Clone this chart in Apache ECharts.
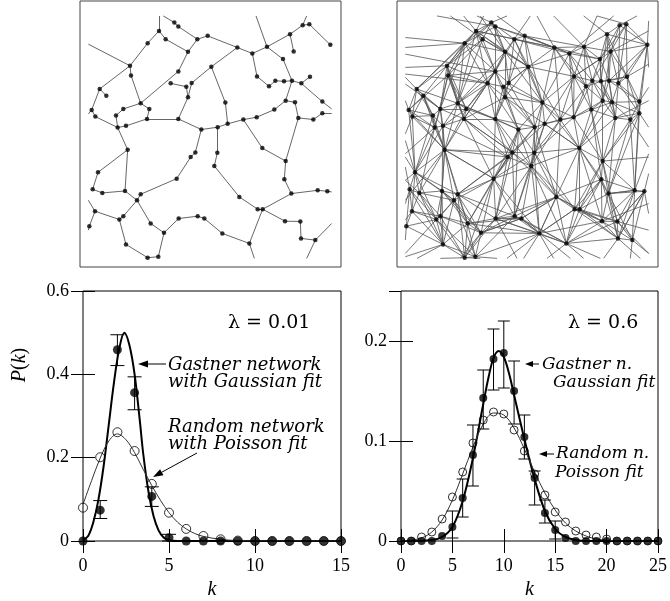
<!DOCTYPE html>
<html>
<head>
<meta charset="utf-8">
<script src="https://cdn.jsdelivr.net/npm/echarts@6/dist/echarts.min.js"></script>
<style>
  html, body { margin: 0; padding: 0; background: #fff; }
  #chart { width: 670px; height: 601px; }
</style>
</head>
<body>
<div id="chart"></div>
<script>
// network node positions (same nodes in both panels), panel units
const nodeXY = [[237,90],[283,65],[295,77],[257,115],[203,127],[352,115],[383,105],[324,153],[472,140],[517,158],
  [561,138],[630,100],[668,73],[688,70],[751,132],[641,152],[609,175],[150,195],[153,224],[394,198],
  [295,212],[272,248],[319,258],[335,247],[324,290],[531,227],[567,257],[586,240],[612,242],[636,240],
  [664,248],[690,228],[59,265],[79,285],[182,308],[130,325],[208,325],[35,328],[46,348],[108,345],
  [201,355],[295,355],[436,306],[617,300],[645,305],[655,352],[700,357],[727,303],[727,338],[583,327],
  [530,350],[490,357],[443,370],[413,380],[364,387],[138,376],[113,381],[143,448],[547,443],[346,456],
  [332,470],[412,457],[403,497],[54,516],[617,482],[613,537],[634,580],[290,535],[38,567],[67,578],
  [135,572],[182,582],[171,600],[713,570],[742,573],[478,590],[533,627],[548,627],[45,633],[130,648],
  [118,658],[212,670],[296,655],[353,648],[373,655],[615,663],[661,664],[28,678],[252,698],[427,700],
  [508,730],[663,715],[706,720],[138,733],[203,773],[235,770]];

// lambda = 0.01 network: edges as node index pairs, stubs run to the panel edge
const leftEdges = [[0,4],[4,17],[17,18],[18,34],[17,32],[32,33],[32,37],[37,38],[38,56],[39,35],[39,56],[56,55],
  [55,40],[40,41],[40,36],[36,34],[34,35],[34,20],[20,7],[7,5],[5,2],[2,1],[0,3],[3,7],[5,6],[6,8],[8,9],[9,10],
  [10,11],[11,12],[12,13],[13,14],[11,15],[10,16],[16,29],[9,25],[25,26],[26,27],[27,28],[28,29],[29,30],[30,31],
  [30,47],[29,43],[43,44],[44,45],[45,46],[46,48],[43,49],[49,50],[50,51],[51,52],[52,53],[53,54],[54,41],[41,24],
  [24,22],[22,21],[8,19],[19,23],[23,24],[19,42],[42,52],[51,58],[58,64],[45,64],[64,65],[65,66],[66,73],[73,74],
  [66,77],[77,76],[76,75],[77,85],[85,86],[86,91],[91,92],[77,90],[90,89],[89,84],[84,83],[83,82],[82,88],[88,81],
  [81,72],[72,71],[71,67],[67,60],[60,59],[59,54],[53,61],[61,62],[62,75],[56,57],[57,70],[57,63],[63,68],[68,69],
  [69,70],[70,72],[72,79],[79,80],[80,78],[80,93],[93,94],[94,95],[95,88],[78,87]];
const leftStubs = [[0,237,45],[1,250,45],[10,528,45],[12,680,45],[17,25,130],[37,25,340],[47,755,325],[48,755,338],
  [74,755,575],[78,25,600],[87,25,690],[92,755,670],[92,680,775],[90,523,775],[94,195,775],[14,755,130]];

// lambda = 0.6 network: short links as neighbour lists (higher indices only)
const rightAdj = [[1,3,4,5,7,17,19,20],[2,3,5,7],[6,7,20],[7,17,18,20],[7,17,18,20,32,34],[6,7,8,19,20],[8,9,19],
  [19,20,21,23],[9,10,19,25,42],[10,16,19,25,26],[11,15,16,25,27],[12,14,15,16,29],[13,14,15],[14,15,31],
  [15,30,31,47],[16,29,30,31],[25,27,28,29],[18,32,33,34,35],[20,21,34,35,36],[20,22,23,25,42],[21,22,23,24,34],
  [22,24,34,36,41],[23,24,41,54],[24,42],[40,41,42,54],[26,27,42,50,51],[27,28,49,50],[28,43,49],[29,43,44],
  [30,31,43,44],[31,44,45,47],[47,48],[33,35,37,38],[35,37,38,39],[35,36,40,41,55],[36,39,55,56],[40,41,55],
  [38,39,56,63],[39,56,63],[55,56,57],[41,55,57,59],[54,59,60],[50,51,52,53,54],[44,45,49,50],[45,47,48,49],
  [46,48,49,58,64],[47,48,64,73],[48],[64,73],[50,58,64],[51,52,58],[52,58,61,62],[53,58,61],[54,59,61,62],
  [59,60,61],[56,57],[57,63],[60,63,67,70,71],[61,62,64,65,75],[60,61,62,67],[62,67,71],[62,75],[67,75,83,84],
  [68,69,70],[65,66,73],[66,73,75,76,77],[73,77,85,86],[71,72,81,82,83],[69,78,87],[70,72,78,80],[71,72,79,80],
  [72,81,82],[79,80,81],[74,86,91,92],[86,92],[76,77,84,89,90],[77,85,89,90],[85,90],[80,87,93],[80,81,93],
  [87,93],[82,88,93,94,95],[83,84,88,89],[84,88,89],[89,90],[86,90,91],[91,92],[93],[89,94,95],[90],[91],[92],
  [],[94],[95],[]];
// lambda = 0.6 network: long links
const rightLong = [[0,8],[0,21],[0,32],[0,34],[1,19],[1,4],[1,17],[2,8],[2,4],[3,34],[3,19],[4,35],[4,21],[5,23],
  [5,42],[5,9],[6,23],[6,42],[6,10],[7,42],[7,34],[7,24],[8,16],[8,26],[8,51],[9,27],[9,42],[9,50],[10,28],[10,26],
  [11,28],[11,31],[12,16],[12,30],[13,30],[13,16],[14,29],[14,48],[15,43],[15,27],[16,43],[17,36],[17,40],[17,21],
  [18,37],[18,40],[18,56],[19,24],[19,51],[19,53],[20,36],[20,40],[20,41],[21,40],[21,54],[22,42],[22,53],[23,53],
  [23,41],[24,53],[24,52],[25,49],[25,52],[25,16],[26,43],[26,51],[27,44],[27,50],[28,45],[28,31],[29,47],[29,45],
  [30,48],[31,46],[32,39],[32,34],[33,56],[33,57],[34,57],[34,54],[35,57],[35,40],[36,57],[36,59],[37,57],[38,57],
  [39,63],[40,60],[40,67],[41,53],[41,67],[42,58],[42,61],[43,58],[43,64],[44,58],[44,46],[45,66],[46,66],[47,73],
  [48,66],[49,65],[50,61],[50,64],[51,75],[52,62],[52,59],[53,67],[54,67],[54,62],[55,63],[55,60],[56,69],[57,72],
  [57,69],[58,66],[58,76],[59,71],[60,82],[61,89],[61,67],[62,89],[62,76],[63,78],[63,71],[64,77],[65,85],[65,90],
  [66,74],[66,91],[67,88],[68,80],[69,79],[70,81],[70,93],[71,88],[72,93],[72,88],[73,85],[74,91],[75,83],[75,85],
  [76,86],[77,91],[78,79],[79,94],[81,89],[82,90],[83,90],[84,75],[85,92],[88,84],[89,76],[93,95],[80,94],
  [57,67],[57,59],[57,81],[59,82],[59,83],[60,81],[61,83],[61,76],[62,82],[62,90],[58,77],[58,85],[64,76],[64,86],
  [65,91],[66,92],[67,89],[67,94],[68,93],[69,93],[70,88],[71,94],[71,83],[72,95],[73,66],[75,82],[75,89],[76,91],
  [77,86],[79,88],[80,95],[81,84],[82,94],[83,95],[84,88],[85,89],[86,74],[89,95],[90,86],[91,74],[63,80],[63,72],
  [57,79],[59,75],[53,75],[52,58],[54,83],[41,62],[40,59],[55,70]];
const rightStubs = [[0,200,45],[0,260,45],[1,240,45],[1,330,45],[2,120,45],[5,400,45],[6,300,45],[8,420,45],
  [10,470,45],[10,600,45],[11,560,45],[12,720,45],[13,600,45],[14,755,60],[4,25,110],[4,25,140],[17,25,200],
  [32,25,230],[37,25,300],[38,25,400],[63,25,470],[63,25,540],[68,25,610],[87,25,720],[78,25,660],[93,60,775],
  [94,130,775],[95,300,775],[88,190,775],[89,380,775],[89,470,775],[90,560,775],[90,450,775],[91,620,775],
  [92,755,760],[92,700,775],[74,755,520],[74,755,640],[48,755,380],[47,755,260],[14,755,200],[46,755,440],
  [31,755,190],[86,755,690],[3,160,45],[7,250,45],[9,650,45],[15,755,90],[20,25,160],[35,25,250],[56,25,460],
  [57,25,600],[80,25,760],[82,360,775],[84,520,775],[85,755,610],[64,755,470],[45,755,300],[21,25,220],
  [94,250,775],[93,25,770],[89,330,775],[90,610,775],[91,730,775],[86,755,760],[73,755,460],[68,25,500],
  [63,25,420],[69,25,540]];

// degree distribution, lambda = 0.01
const kLeft = [0,1,2,3,4,5,6,7,8,9,10,11,12,13,14,15];
const gastnerLeft = [0,0.074,0.459,0.356,0.107,0.008,0,0,0,0,0,0,0,0,0,0];
const randomLeft = [0.080,0.201,0.261,0.216,0.137,0.068,0.029,0.012,0.004,0.001,0,0,0,0,0,0];
const errKLeft = [1,2,3,4,5];
const errLowLeft = [0.054,0.421,0.315,0.083,0];
const errHighLeft = [0.097,0.495,0.394,0.130,0.016];
const gaussFitLeftK = [0,0.3,0.6,0.9,1.2,1.5,1.8,2.1,2.4,2.7,3.0,3.3,3.5,3.8,4.1,4.4,4.7,5.0,5.5,15];
const gaussFitLeftP = [0.003,0.012,0.045,0.10,0.18,0.28,0.38,0.46,0.50,0.47,0.40,0.29,0.21,0.12,0.06,0.025,0.008,0.002,0,0];
const poisFitLeftK = [0,0.5,1,1.5,2,2.5,3,3.5,4,4.5,5,5.5,6,6.5,7,8,9,10,15];
const poisFitLeftP = [0.088,0.145,0.199,0.240,0.257,0.243,0.212,0.172,0.133,0.098,0.068,0.045,0.029,0.018,0.011,0.004,0.001,0,0];

// degree distribution, lambda = 0.6
const kRight = [0,1,2,3,4,5,6,7,8,9,10,11,12,13,14,15,16,17,18,19,20,21,22,23,24,25];
const gastnerRight = [0,0,0,0,0.005,0.014,0.043,0.086,0.143,0.182,0.188,0.150,0.104,0.063,0.028,0.011,0.003,0,0,0,0,0,0,0,0,0];
const randomRight = [0,0,0.004,0.009,0.022,0.044,0.069,0.098,0.121,0.129,0.127,0.111,0.090,0.067,0.046,0.029,0.019,0.010,0.006,0.004,0.002,0,0,0,0,0];
const errKRight = [5,6,7,8,9,10,11,12,13,14,15];
const errLowRight = [0.003,0.024,0.055,0.112,0.151,0.153,0.117,0.082,0.036,0.018,0.002];
const errHighRight = [0.030,0.062,0.116,0.171,0.212,0.220,0.180,0.126,0.070,0.041,0.020];
const gaussFitRightK = [0,3,4,5,6,7,8,8.5,9,9.5,10,10.5,11,12,13,14,15,16,17,18,25];
const gaussFitRightP = [0,0.001,0.004,0.014,0.040,0.083,0.137,0.163,0.183,0.190,0.184,0.168,0.146,0.102,0.062,0.030,0.012,0.004,0.001,0,0];
const poisFitRightK = [0,1,2,3,4,5,6,7,8,9,10,11,12,13,14,15,16,17,18,19,20,21,25];
const poisFitRightP = [0,0.001,0.003,0.009,0.021,0.041,0.067,0.094,0.117,0.128,0.126,0.113,0.092,0.069,0.048,0.031,0.018,0.010,0.005,0.002,0.001,0,0];

const serif = "'Liberation Serif', 'DejaVu Serif', serif";
const italic = "'DejaVu Serif', serif";

function zip(xs, ys) {
  return xs.map((x, i) => [x, ys[i]]);
}

function edgeLines(pairs, stubs) {
  const out = pairs.map(([a, b]) => ({ coords: [nodeXY[a], nodeXY[b]] }));
  stubs.forEach(([a, x, y]) => out.push({ coords: [nodeXY[a], [x, y]] }));
  return out;
}

const rightPairs = rightLong.slice();
rightAdj.forEach((list, i) => list.forEach((j) => rightPairs.push([i, j])));

function netAxes(grid) {
  return {
    x: { type: "value", gridIndex: grid, min: 0, max: 783, show: false },
    y: { type: "value", gridIndex: grid, min: 0, max: 801, inverse: true, show: false },
  };
}

function plotAxes(grid, xmax, ymax, yint, showMax) {
  const tick = { show: true, inside: true, length: 12, lineStyle: { color: "#000", width: 1 } };
  const label = { color: "#000", fontFamily: serif, fontSize: 18 };
  return {
    x: [
      { type: "value", gridIndex: grid, min: 0, max: xmax, interval: 5, position: "bottom",
        axisLine: { show: false }, splitLine: { show: false }, axisTick: tick,
        axisLabel: Object.assign({ margin: 16 }, label),
        name: "k", nameLocation: "middle", nameGap: 39,
        nameTextStyle: { fontFamily: serif, fontStyle: "italic", fontSize: 20, color: "#000" } },
      { type: "value", gridIndex: grid, min: 0, max: xmax, interval: 5, position: "top",
        axisLine: { show: false }, splitLine: { show: false }, axisTick: tick, axisLabel: { show: false } },
    ],
    y: [
      { type: "value", gridIndex: grid, min: 0, max: ymax, interval: yint, position: "left",
        axisLine: { show: false }, splitLine: { show: false }, axisTick: tick,
        axisLabel: Object.assign({ margin: 14, showMaxLabel: showMax,
          formatter: (v) => (v === 0 ? "0" : v.toFixed(1)) }, label) },
      { type: "value", gridIndex: grid, min: 0, max: ymax, interval: yint, position: "right",
        axisLine: { show: false }, splitLine: { show: false }, axisTick: tick, axisLabel: { show: false } },
    ],
  };
}

const netL = netAxes(0);
const netR = netAxes(1);
const plotL = plotAxes(2, 15, 0.6, 0.2, true);
const plotR = plotAxes(3, 25, 0.25, 0.1, false);

function errorBars(xi, yi, ks, lo, hi, cap) {
  return {
    type: "custom", xAxisIndex: xi, yAxisIndex: yi, z: 3, silent: true,
    encode: { x: 0, y: [1, 2] },
    data: ks.map((k, i) => [k, lo[i], hi[i]]),
    renderItem: (params, api) => {
      const a = api.coord([api.value(0), api.value(1)]);
      const b = api.coord([api.value(0), api.value(2)]);
      const st = { stroke: "#000", lineWidth: 1 };
      return {
        type: "group",
        children: [
          { type: "line", shape: { x1: a[0], y1: a[1], x2: b[0], y2: b[1] }, style: st },
          { type: "line", shape: { x1: a[0] - cap, y1: a[1], x2: a[0] + cap, y2: a[1] }, style: st },
          { type: "line", shape: { x1: b[0] - cap, y1: b[1], x2: b[0] + cap, y2: b[1] }, style: st },
        ],
      };
    },
  };
}

function fitLine(xi, yi, ks, ps, width, color) {
  return {
    type: "line", xAxisIndex: xi, yAxisIndex: yi, z: 2, silent: true,
    data: zip(ks, ps), smooth: 0.35, showSymbol: false, symbol: "none",
    lineStyle: { color: color, width: width },
  };
}

function dots(xi, yi, ks, ps, size, hollow) {
  return {
    type: "scatter", xAxisIndex: xi, yAxisIndex: yi, z: hollow ? 4 : 5, silent: true,
    data: zip(ks, ps), symbol: "circle", symbolSize: size,
    itemStyle: hollow
      ? { color: "rgba(255,255,255,0)", borderColor: "#000", borderWidth: 1 }
      : { color: "#000" },
  };
}

function arrow(x1, y1, x2, y2, len, half) {
  const dx = x2 - x1, dy = y2 - y1;
  const d = Math.sqrt(dx * dx + dy * dy);
  const ux = dx / d, uy = dy / d;
  const bx = x2 - ux * len, by = y2 - uy * len;
  return [
    { type: "line", shape: { x1: x1, y1: y1, x2: bx, y2: by }, style: { stroke: "#000", lineWidth: 1 } },
    { type: "polygon", shape: { points: [[x2, y2], [bx - uy * half, by + ux * half], [bx + uy * half, by - ux * half]] },
      style: { fill: "#000" } },
  ];
}

function label(x, y, text, size, font, style) {
  return {
    type: "text", x: x, y: y,
    style: { text: text, fontSize: size, fontFamily: font, fontStyle: style || "normal",
      fill: "#000", align: "left", verticalAlign: "middle" },
  };
}

const chart = echarts.init(document.getElementById("chart"));

chart.setOption({
  animation: false,
  backgroundColor: "#fff",
  grid: [
    { left: 80, top: 1, width: 261, height: 266, show: true, borderColor: "#444", borderWidth: 1 },
    { left: 397, top: 1, width: 261, height: 266, show: true, borderColor: "#444", borderWidth: 1 },
    { left: 83, top: 291, width: 258, height: 256, show: true, borderColor: "#000", borderWidth: 1 },
    { left: 401, top: 291, width: 259, height: 256, show: true, borderColor: "#000", borderWidth: 1 },
  ],
  xAxis: [netL.x, netR.x].concat(plotL.x, plotR.x),
  yAxis: [netL.y, netR.y].concat(plotL.y, plotR.y),
  series: [
    { type: "lines", coordinateSystem: "cartesian2d", xAxisIndex: 0, yAxisIndex: 0, silent: true,
      data: edgeLines(leftEdges, leftStubs), lineStyle: { color: "#555", width: 0.9, opacity: 1 } },
    { type: "scatter", xAxisIndex: 0, yAxisIndex: 0, silent: true, data: nodeXY, symbolSize: 4.5,
      itemStyle: { color: "#000" } },
    { type: "lines", coordinateSystem: "cartesian2d", xAxisIndex: 1, yAxisIndex: 1, silent: true,
      data: edgeLines(rightPairs, rightStubs), lineStyle: { color: "#555", width: 0.8, opacity: 1 } },
    { type: "scatter", xAxisIndex: 1, yAxisIndex: 1, silent: true, data: nodeXY, symbolSize: 4.5,
      itemStyle: { color: "#000" } },

    fitLine(2, 2, gaussFitLeftK, gaussFitLeftP, 2, "#000"),
    fitLine(2, 2, poisFitLeftK, poisFitLeftP, 1, "#333"),
    errorBars(2, 2, errKLeft, errLowLeft, errHighLeft, 7),
    dots(2, 2, kLeft, randomLeft, 9, true),
    dots(2, 2, kLeft, gastnerLeft, 9, false),

    fitLine(4, 4, gaussFitRightK, gaussFitRightP, 2, "#000"),
    fitLine(4, 4, poisFitRightK, poisFitRightP, 1, "#333"),
    errorBars(4, 4, errKRight, errLowRight, errHighRight, 6),
    dots(4, 4, kRight, randomRight, 8, true),
    dots(4, 4, kRight, gastnerRight, 8, false),
  ],
  graphic: [
    {
      type: "text", x: 20, y: 365, rotation: Math.PI / 2,
      style: { text: "{i|P}({i|k})", rich: { i: { fontStyle: "italic", fontFamily: serif, fontSize: 20 } },
        fontFamily: serif, fontSize: 20, fill: "#000", align: "center", verticalAlign: "middle" },
    },
    label(228, 323, "λ = 0.01", 19, italic),
    label(568, 323, "λ = 0.6", 19, italic),
    label(168, 365, "Gastner network", 18, italic, "italic"),
    label(168, 382, "with Gaussian fit", 18, italic, "italic"),
    label(168, 427, "Random network", 18, italic, "italic"),
    label(168, 444, "with Poisson fit", 18, italic, "italic"),
    label(542, 365, "Gastner n.", 17, italic, "italic"),
    label(553, 383, "Gaussian fit", 17, italic, "italic"),
    label(556, 454, "Random n.", 17, italic, "italic"),
    label(555, 473, "Poisson fit", 17, italic, "italic"),
  ].concat(
    arrow(166, 364, 138, 364, 10, 3.5),
    arrow(197, 453, 153, 477, 10, 3.5),
    arrow(539, 364, 525, 364, 8, 3),
    arrow(554, 454, 539, 454, 8, 3)
  ),
});
</script>
</body>
</html>
